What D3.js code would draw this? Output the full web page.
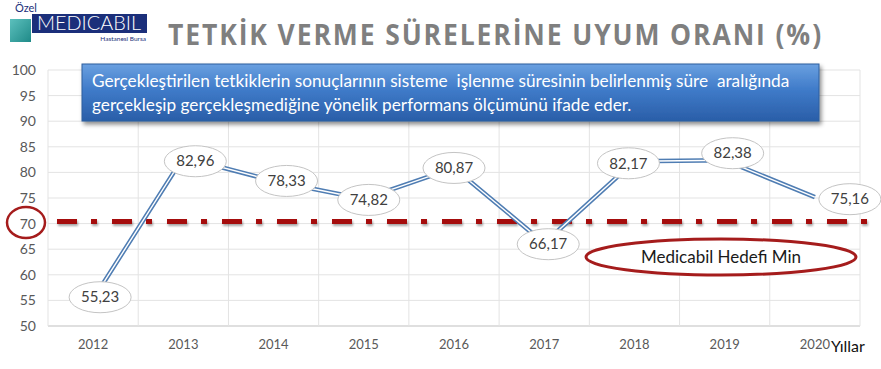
<!DOCTYPE html>
<html>
<head>
<meta charset="utf-8">
<script src="https://cdn.jsdelivr.net/npm/d3@7"></script>
<style>
  body { margin: 0; background: #fff; }
  svg { display: block; }
</style>
</head>
<body>
<div id="chart"></div>
<script>
// data
var years = ["2012", "2013", "2014", "2015", "2016", "2017", "2018", "2019", "2020"];
var rates = [55.23, 82.96, 78.33, 74.82, 80.87, 66.17, 82.17, 82.38, 75.16];
var yTicks = [50, 55, 60, 65, 70, 75, 80, 85, 90, 95, 100];
var target = 70;
var titleText = "TETKİK VERME SÜRELERİNE UYUM ORANI (%)";
var noteLines = [
  "Gerçekleştirilen tetkiklerin sonuçlarının sisteme  işlenme süresinin belirlenmiş süre  aralığında",
  "gerçekleşip gerçekleşmediğine yönelik performans ölçümünü ifade eder."
];
var targetLabel = "Medicabil Hedefi Min";
var axisTitle = "Yıllar";

// layout
var W = 881, H = 369;
var plot = { left: 48, right: 860, top: 70, bottom: 326 };
// label nudges so bubbles sit like in the original
var labelNudge = { "2012": [7, -2], "2013": [12, 4], "2014": [13, 0], "2015": [5, 1],
  "2016": [0, 0], "2017": [4, 1], "2018": [-6, 2], "2019": [8, -7], "2020": [35, 2] };

var fmt = d3.formatLocale({ decimal: ",", thousands: ".", grouping: [3], currency: ["", ""] }).format(".2f");

var svg = d3.select("#chart").append("svg")
  .attr("width", W).attr("height", H);

var defs = svg.append("defs");
var grad = defs.append("linearGradient").attr("id", "boxGrad")
  .attr("x1", 0).attr("y1", 0).attr("x2", 0).attr("y2", 1);
grad.append("stop").attr("offset", "0%").attr("stop-color", "#6aa0e0");
grad.append("stop").attr("offset", "45%").attr("stop-color", "#3f7bc9");
grad.append("stop").attr("offset", "100%").attr("stop-color", "#2a5ea8");

var shadow = defs.append("filter").attr("id", "shadow")
  .attr("x", "-10%").attr("y", "-30%").attr("width", "130%").attr("height", "180%");
shadow.append("feDropShadow").attr("dx", 2).attr("dy", 3).attr("stdDeviation", 2)
  .attr("flood-color", "#000").attr("flood-opacity", 0.45);

// a horizontal line has no height, so the shadow region is given in user space
var lineShadow = defs.append("filter").attr("id", "lineShadow")
  .attr("filterUnits", "userSpaceOnUse")
  .attr("x", 40).attr("y", 200).attr("width", 840).attr("height", 50);
lineShadow.append("feDropShadow").attr("dx", 1).attr("dy", 2).attr("stdDeviation", 1)
  .attr("flood-color", "#000").attr("flood-opacity", 0.35);

var tealGrad = defs.append("linearGradient").attr("id", "tealGrad")
  .attr("x1", 0).attr("y1", 0).attr("x2", 1).attr("y2", 1);
tealGrad.append("stop").attr("offset", "0%").attr("stop-color", "#5cc0bd");
tealGrad.append("stop").attr("offset", "100%").attr("stop-color", "#1f8a88");

// scales
var x = d3.scaleBand().domain(years).range([plot.left, plot.right]).padding(0);
var y = d3.scaleLinear().domain([50, 100]).range([plot.bottom, plot.top]);
var cx = function(d) { return x(d) + x.bandwidth() / 2; };

// gridlines
var grid = svg.append("g");
grid.selectAll(".hg").data(yTicks).enter().append("line")
  .attr("x1", plot.left).attr("x2", plot.right)
  .attr("y1", function(d) { return y(d); }).attr("y2", function(d) { return y(d); })
  .attr("stroke", function(d) { return d === 50 ? "#bfbfbf" : "#e3e3e3"; })
  .attr("stroke-width", 1);
grid.selectAll(".vg").data(years.concat(["end"])).enter().append("line")
  .attr("x1", function(d, i) { return plot.left + i * x.bandwidth(); })
  .attr("x2", function(d, i) { return plot.left + i * x.bandwidth(); })
  .attr("y1", plot.top).attr("y2", plot.bottom)
  .attr("stroke", "#e3e3e3").attr("stroke-width", 1);

// y axis labels
var yAxis = svg.append("g")
  .attr("transform", "translate(" + plot.left + ",0)")
  .call(d3.axisLeft(y).tickValues(yTicks).tickSize(0).tickPadding(12));
yAxis.select(".domain").remove();
yAxis.selectAll("text")
  .attr("font-family", "Lato, 'Open Sans', sans-serif")
  .attr("font-size", 14).attr("fill", "#595959");

// x axis labels
var xAxis = svg.append("g")
  .attr("transform", "translate(0," + plot.bottom + ")")
  .call(d3.axisBottom(x).tickSize(0).tickPadding(14));
xAxis.select(".domain").remove();
xAxis.selectAll("text")
  .attr("font-family", "Lato, 'Open Sans', sans-serif")
  .attr("font-size", 13).attr("fill", "#595959");

svg.append("text")
  .attr("x", 831).attr("y", 352)
  .attr("font-family", "Lato, 'Open Sans', sans-serif")
  .attr("font-size", 16).attr("fill", "#111")
  .text(axisTitle);

// circle around 70
svg.append("ellipse")
  .attr("cx", 26).attr("cy", y(target) - 1)
  .attr("rx", 19).attr("ry", 15.5)
  .attr("fill", "none").attr("stroke", "#a51c1c").attr("stroke-width", 2.5);

// target line
svg.append("line")
  .attr("x1", 57).attr("x2", 868)
  .attr("y1", y(target) - 2).attr("y2", y(target) - 2)
  .attr("stroke", "#a50f0f").attr("stroke-width", 5)
  .attr("stroke-dasharray", "20,14,6,15")
  .attr("filter", "url(#lineShadow)");

// data line (double compound line)
var line = d3.line().x(function(d, i) { return cx(years[i]); }).y(function(d) { return y(d); });
svg.append("path").datum(rates)
  .attr("d", line).attr("fill", "none")
  .attr("stroke", "#4f7db3").attr("stroke-width", 4.5);
svg.append("path").datum(rates)
  .attr("d", line).attr("fill", "none")
  .attr("stroke", "#fff").attr("stroke-width", 1.4);

// value bubbles
var labels = svg.append("g").selectAll("g").data(rates).enter().append("g")
  .attr("transform", function(d, i) {
    var n = labelNudge[years[i]] || [0, 0];
    return "translate(" + (cx(years[i]) + n[0]) + "," + (y(d) + n[1]) + ")";
  });
labels.append("ellipse")
  .attr("rx", 31).attr("ry", 15.5)
  .attr("fill", "#fff").attr("stroke", "#c4c4c4").attr("stroke-width", 1);
labels.append("text")
  .attr("text-anchor", "middle").attr("dy", "0.35em")
  .attr("font-family", "Lato, 'Open Sans', sans-serif")
  .attr("font-size", 15).attr("fill", "#404040")
  .text(function(d) { return fmt(d); });

// target label
var tg = svg.append("g").attr("transform", "translate(721,257)");
tg.append("ellipse")
  .attr("rx", 135).attr("ry", 18)
  .attr("fill", "#fff").attr("stroke", "#a51c1c").attr("stroke-width", 3);
tg.append("text")
  .attr("text-anchor", "middle").attr("dy", "0.36em")
  .attr("font-family", "Lato, 'Open Sans', sans-serif")
  .attr("font-size", 17).attr("fill", "#1a1a1a")
  .text(targetLabel);

// description box
svg.append("rect")
  .attr("x", 82).attr("y", 64).attr("width", 737).attr("height", 57)
  .attr("fill", "url(#boxGrad)").attr("stroke", "#2f5f9e").attr("stroke-width", 1)
  .attr("filter", "url(#shadow)");
var note = svg.append("g");
note.selectAll("text").data(noteLines).enter().append("text")
  .attr("x", 92).attr("y", function(d, i) { return 87 + i * 24; })
  .attr("font-family", "Lato, 'Open Sans', sans-serif")
  .attr("font-size", 16).attr("fill", "#fff")
  .style("white-space", "pre")
  .text(function(d) { return d; });
// fit first line to the original width, reuse its size on the second
var first = note.select("text").node();
var fs = 16 * 698 / first.getComputedTextLength();
note.selectAll("text").attr("font-size", fs);

// title
var title = svg.append("text")
  .attr("x", 168).attr("y", 45)
  .attr("font-family", "'Open Sans', sans-serif").attr("font-weight", 700)
  .attr("font-size", 28).attr("fill", "#7f7f7f")
  .attr("letter-spacing", 2)
  .text(titleText);
title.attr("textLength", 655).attr("lengthAdjust", "spacingAndGlyphs");

// logo
var logo = svg.append("g");
logo.append("rect").attr("x", 10).attr("y", 19).attr("width", 21).attr("height", 23)
  .attr("fill", "url(#tealGrad)");
logo.append("rect").attr("x", 32).attr("y", 14).attr("width", 115).attr("height", 19)
  .attr("fill", "#1b2f7a");
logo.append("text").attr("x", 15).attr("y", 12)
  .attr("font-family", "Lato, sans-serif").attr("font-size", 11).attr("fill", "#1b2f7a")
  .text("Özel");
logo.append("text").attr("x", 89).attr("y", 30).attr("text-anchor", "middle")
  .attr("font-family", "Lato, sans-serif").attr("font-weight", 300)
  .attr("font-size", 19).attr("fill", "#fff")
  .attr("textLength", 104).attr("lengthAdjust", "spacingAndGlyphs")
  .text("MEDICABIL");
logo.append("text").attr("x", 146).attr("y", 41).attr("text-anchor", "end")
  .attr("font-family", "Lato, sans-serif").attr("font-size", 6.5).attr("fill", "#1b2f7a")
  .text("Hastanesi Bursa");
</script>
</body>
</html>
